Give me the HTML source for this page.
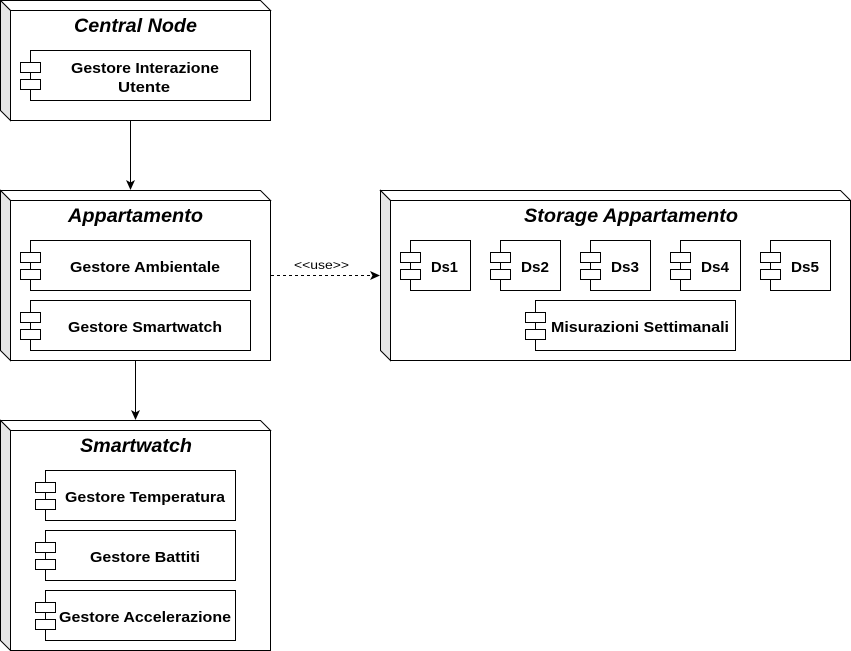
<!DOCTYPE html>
<html><head><style>body{margin:0;background:#fff}svg{display:block}</style></head><body>
<svg width="851" height="651" xmlns="http://www.w3.org/2000/svg" font-family="Liberation Sans, Arial, sans-serif">
<defs>
<marker id="a" markerWidth="12" markerHeight="12" refX="9" refY="6" orient="auto" markerUnits="userSpaceOnUse"><path d="M0,1.5 L10,6 L0,10.5 L2.5,6 Z" fill="#000"/></marker>
</defs>
<g stroke="#000" stroke-width="1" fill="#fff">
<path d="M0.5,0.5 L260.5,0.5 L270.5,10.5 L10.5,10.5 Z"/>
<path d="M0.5,0.5 L10.5,10.5 L10.5,120.5 L0.5,110.5 Z" fill="#e6e6e6"/>
<rect x="10.5" y="10.5" width="260" height="110"/>
<path d="M0.5,190.5 L260.5,190.5 L270.5,200.5 L10.5,200.5 Z"/>
<path d="M0.5,190.5 L10.5,200.5 L10.5,360.5 L0.5,350.5 Z" fill="#e6e6e6"/>
<rect x="10.5" y="200.5" width="260" height="160"/>
<path d="M380.5,190.5 L840.5,190.5 L850.5,200.5 L390.5,200.5 Z"/>
<path d="M380.5,190.5 L390.5,200.5 L390.5,360.5 L380.5,350.5 Z" fill="#e6e6e6"/>
<rect x="390.5" y="200.5" width="460" height="160"/>
<path d="M0.5,420.5 L260.5,420.5 L270.5,430.5 L10.5,430.5 Z"/>
<path d="M0.5,420.5 L10.5,430.5 L10.5,650.5 L0.5,640.5 Z" fill="#e6e6e6"/>
<rect x="10.5" y="430.5" width="260" height="220"/>

<rect x="30.5" y="50.5" width="220" height="50"/><rect x="20.5" y="62.5" width="20" height="10"/><rect x="20.5" y="79.5" width="20" height="10"/>
<rect x="30.5" y="240.5" width="220" height="50"/><rect x="20.5" y="252.5" width="20" height="10"/><rect x="20.5" y="269.5" width="20" height="10"/>
<rect x="30.5" y="300.5" width="220" height="50"/><rect x="20.5" y="312.5" width="20" height="10"/><rect x="20.5" y="329.5" width="20" height="10"/>
<rect x="45.5" y="470.5" width="190" height="50"/><rect x="35.5" y="482.5" width="20" height="10"/><rect x="35.5" y="499.5" width="20" height="10"/>
<rect x="45.5" y="530.5" width="190" height="50"/><rect x="35.5" y="542.5" width="20" height="10"/><rect x="35.5" y="559.5" width="20" height="10"/>
<rect x="45.5" y="590.5" width="190" height="50"/><rect x="35.5" y="602.5" width="20" height="10"/><rect x="35.5" y="619.5" width="20" height="10"/>
<rect x="410.5" y="240.5" width="60" height="50"/><rect x="400.5" y="252.5" width="20" height="10"/><rect x="400.5" y="269.5" width="20" height="10"/>
<rect x="500.5" y="240.5" width="60" height="50"/><rect x="490.5" y="252.5" width="20" height="10"/><rect x="490.5" y="269.5" width="20" height="10"/>
<rect x="590.5" y="240.5" width="60" height="50"/><rect x="580.5" y="252.5" width="20" height="10"/><rect x="580.5" y="269.5" width="20" height="10"/>
<rect x="680.5" y="240.5" width="60" height="50"/><rect x="670.5" y="252.5" width="20" height="10"/><rect x="670.5" y="269.5" width="20" height="10"/>
<rect x="770.5" y="240.5" width="60" height="50"/><rect x="760.5" y="252.5" width="20" height="10"/><rect x="760.5" y="269.5" width="20" height="10"/>
<rect x="535.5" y="300.5" width="200" height="50"/><rect x="525.5" y="312.5" width="20" height="10"/><rect x="525.5" y="329.5" width="20" height="10"/>
</g>
<g stroke="#000" fill="none">
<line x1="130.5" y1="121" x2="130.5" y2="189" marker-end="url(#a)"/>
<line x1="135.5" y1="361" x2="135.5" y2="419" marker-end="url(#a)"/>
<line x1="271" y1="275.5" x2="379" y2="275.5" stroke-dasharray="3,3" marker-end="url(#a)"/>
</g>
<text x="294" y="269" font-size="12" textLength="55" lengthAdjust="spacingAndGlyphs" fill="#000">&lt;&lt;use&gt;&gt;</text>
<g font-size="19" font-weight="bold" font-style="italic" fill="#000">
<text x="74" y="32" textLength="123" lengthAdjust="spacingAndGlyphs">Central Node</text>
<text x="68" y="222" textLength="135" lengthAdjust="spacingAndGlyphs">Appartamento</text>
<text x="524" y="222" textLength="214" lengthAdjust="spacingAndGlyphs">Storage Appartamento</text>
<text x="80" y="452" textLength="112" lengthAdjust="spacingAndGlyphs">Smartwatch</text>
</g>
<g font-size="15" font-weight="bold" fill="#000">
<text x="71" y="73" textLength="148" lengthAdjust="spacingAndGlyphs">Gestore Interazione</text>
<text x="118" y="92" textLength="52" lengthAdjust="spacingAndGlyphs">Utente</text>
<text x="70" y="272" textLength="150" lengthAdjust="spacingAndGlyphs">Gestore Ambientale</text>
<text x="68" y="332" textLength="154" lengthAdjust="spacingAndGlyphs">Gestore Smartwatch</text>
<text x="65" y="502" textLength="160" lengthAdjust="spacingAndGlyphs">Gestore Temperatura</text>
<text x="90" y="562" textLength="110" lengthAdjust="spacingAndGlyphs">Gestore Battiti</text>
<text x="59" y="622" textLength="172" lengthAdjust="spacingAndGlyphs">Gestore Accelerazione</text>
<text x="431" y="272" textLength="27" lengthAdjust="spacingAndGlyphs">Ds1</text>
<text x="521" y="272" textLength="28" lengthAdjust="spacingAndGlyphs">Ds2</text>
<text x="611" y="272" textLength="28" lengthAdjust="spacingAndGlyphs">Ds3</text>
<text x="701" y="272" textLength="28" lengthAdjust="spacingAndGlyphs">Ds4</text>
<text x="791" y="272" textLength="28" lengthAdjust="spacingAndGlyphs">Ds5</text>
<text x="551" y="332" textLength="178" lengthAdjust="spacingAndGlyphs">Misurazioni Settimanali</text>
</g>
</svg>
</body></html>
